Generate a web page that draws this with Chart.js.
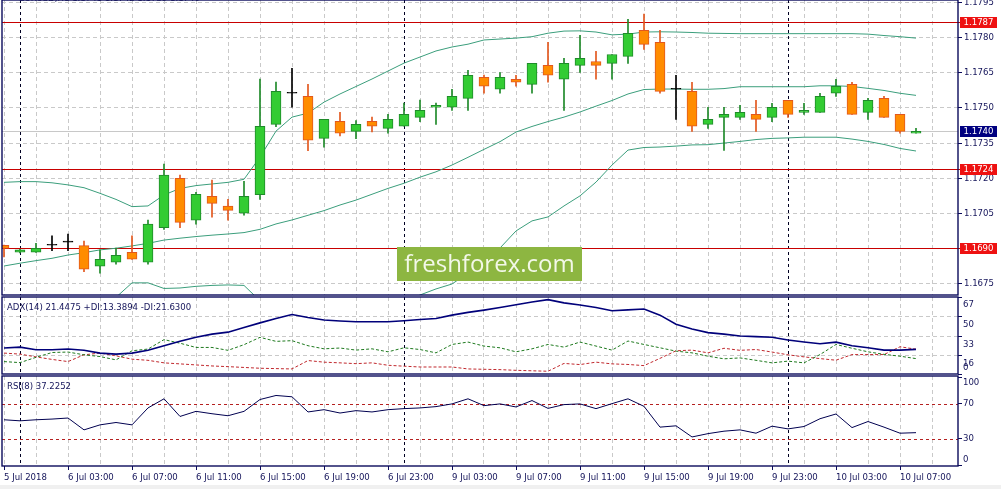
<!DOCTYPE html>
<html>
<head>
<meta charset="utf-8">
<script src="https://cdn.jsdelivr.net/npm/chart.js@4.4.1/dist/chart.umd.min.js"></script>
<style>
html,body{margin:0;padding:0;background:#fff;}
#wrap{position:relative;width:1001px;height:489px;overflow:hidden;background:#fff;}
canvas{position:absolute;left:0;}
.lbl{position:absolute;font-family:'DejaVu Sans Condensed','DejaVu Sans',sans-serif;font-size:9.5px;line-height:12px;color:#14145a;white-space:nowrap;}
#wm{position:absolute;left:397px;top:247px;width:185px;height:34px;background:#8db641;color:#f3f8e8;font-family:'Open Sans',sans-serif;font-size:24px;line-height:32px;text-align:center;}
#strip{position:absolute;left:0;top:485px;width:1001px;height:4px;background:#f0f0f0;}
</style>
</head>
<body>
<div id="wrap">
  <canvas id="cMain" width="1001" height="297" style="top:0px"></canvas>
  <canvas id="cAdx" width="1001" height="79" style="top:296px"></canvas>
  <canvas id="cRsi" width="1001" height="114" style="top:375px"></canvas>
  <div class="lbl" style="left:19px;top:-8px">EURUSD,H1  1.1741 1.1742 1.1739 1.1740</div>
  <div class="lbl" style="left:7px;top:301px">ADX(14) 21.4475 +DI:13.3894 -DI:21.6300</div>
  <div class="lbl" style="left:7px;top:380px">RSI(8) 37.2252</div>
  <div id="wm">freshforex.com</div>
  <div id="strip"></div>
</div>
<script>
// ---------------- DATA ----------------
const xTickLabels = ['5 Jul 2018','6 Jul 03:00','6 Jul 07:00','6 Jul 11:00','6 Jul 15:00','6 Jul 19:00','6 Jul 23:00',
  '9 Jul 03:00','9 Jul 07:00','9 Jul 11:00','9 Jul 15:00','9 Jul 19:00','9 Jul 23:00','10 Jul 03:00','10 Jul 07:00'];
const daySeparators = [1, 25, 49];

const open = [1.16912,1.16883,1.16883,1.16913,1.16926,1.16911,1.16823,1.16840,1.16883,1.16840,
1.16988,1.17199,1.17020,1.17122,1.17080,1.17050,1.17129,1.17430,1.17563,1.17550,
1.17370,1.17443,1.17400,1.17443,1.17413,1.17422,1.17460,1.17503,1.17503,1.17541,
1.17631,1.17580,1.17623,1.17601,1.17682,1.17623,1.17682,1.17699,1.17691,1.17721,
1.17832,1.17781,1.17580,1.17571,1.17430,1.17460,1.17460,1.17473,1.17460,1.17533,
1.17481,1.17481,1.17563,1.17601,1.17481,1.17541,1.17473,1.17392];
const high = [1.16914,1.16895,1.16921,1.16953,1.16961,1.16931,1.16893,1.16901,1.16953,1.17021,
1.17260,1.17213,1.17139,1.17192,1.17109,1.17186,1.17624,1.17611,1.17670,1.17601,
1.17451,1.17481,1.17446,1.17461,1.17473,1.17521,1.17534,1.17521,1.17580,1.17661,
1.17641,1.17652,1.17640,1.17691,1.17781,1.17712,1.17811,1.17742,1.17729,1.17879,
1.17902,1.17832,1.17640,1.17610,1.17503,1.17503,1.17511,1.17533,1.17520,1.17533,
1.17520,1.17563,1.17623,1.17610,1.17541,1.17550,1.17473,1.17413];
const low = [1.16863,1.16880,1.16882,1.16890,1.16890,1.16800,1.16793,1.16832,1.16852,1.16832,
1.16981,1.16988,1.17003,1.17033,1.17020,1.17041,1.17109,1.17420,1.17503,1.17317,
1.17332,1.17381,1.17369,1.17398,1.17392,1.17422,1.17441,1.17430,1.17490,1.17490,
1.17563,1.17563,1.17593,1.17563,1.17610,1.17490,1.17652,1.17623,1.17623,1.17691,
1.17751,1.17563,1.17451,1.17400,1.17413,1.17319,1.17451,1.17400,1.17441,1.17460,
1.17473,1.17481,1.17550,1.17473,1.17451,1.17460,1.17392,1.17392];
const close = [1.16899,1.16893,1.16900,1.16913,1.16926,1.16810,1.16853,1.16870,1.16853,1.17003,
1.17213,1.17011,1.17131,1.17092,1.17062,1.17122,1.17422,1.17571,1.17563,1.17362,
1.17451,1.17392,1.17430,1.17422,1.17451,1.17473,1.17490,1.17511,1.17550,1.17640,
1.17593,1.17631,1.17610,1.17691,1.17640,1.17691,1.17712,1.17682,1.17729,1.17819,
1.17772,1.17571,1.17580,1.17422,1.17451,1.17473,1.17481,1.17451,1.17503,1.17473,
1.17490,1.17550,1.17593,1.17473,1.17533,1.17460,1.17400,1.17400];

const bbUpper = [1.17182,1.17185,1.17185,1.17180,1.17171,1.17159,1.17135,1.17109,1.17078,1.17081,
1.17128,1.17156,1.17168,1.17175,1.17182,1.17195,1.17290,1.17401,1.17461,1.17478,
1.17525,1.17560,1.17592,1.17624,1.17658,1.17692,1.17718,1.17744,1.17761,1.17773,
1.17791,1.17795,1.17799,1.17805,1.17820,1.17829,1.17830,1.17825,1.17813,1.17816,
1.17825,1.17826,1.17825,1.17823,1.17820,1.17819,1.17818,1.17818,1.17818,1.17818,
1.17818,1.17818,1.17818,1.17818,1.17816,1.17810,1.17805,1.17799];
const bbMiddle = [1.16824,1.16836,1.16847,1.16857,1.16871,1.16881,1.16893,1.16900,1.16910,1.16921,
1.16935,1.16943,1.16950,1.16956,1.16961,1.16967,1.16981,1.17004,1.17021,1.17041,
1.17061,1.17085,1.17106,1.17131,1.17156,1.17178,1.17204,1.17227,1.17256,1.17289,
1.17323,1.17356,1.17397,1.17421,1.17442,1.17461,1.17483,1.17508,1.17532,1.17560,
1.17579,1.17581,1.17581,1.17580,1.17580,1.17583,1.17591,1.17591,1.17591,1.17591,
1.17591,1.17595,1.17595,1.17592,1.17584,1.17575,1.17563,1.17554];
const bbLower = [1.16466,1.16487,1.16509,1.16534,1.16572,1.16603,1.16650,1.16690,1.16752,1.16752,
1.16728,1.16730,1.16737,1.16741,1.16743,1.16741,1.16675,1.16606,1.16581,1.16602,
1.16598,1.16611,1.16623,1.16636,1.16653,1.16670,1.16700,1.16726,1.16747,1.16794,
1.16846,1.16901,1.16974,1.17017,1.17034,1.17081,1.17124,1.17183,1.17256,1.17320,
1.17331,1.17333,1.17337,1.17342,1.17343,1.17350,1.17357,1.17365,1.17370,1.17372,
1.17375,1.17375,1.17375,1.17367,1.17357,1.17344,1.17327,1.17316];

const adx = [22.6,23.4,21.1,21.1,21.7,20.6,18.2,17.3,18.2,20.6,
24.6,28.5,32.0,34.7,36.4,40.4,44.5,48.3,51.8,49.2,
47.0,46.1,45.4,45.4,45.4,46.3,47.4,48.3,51.2,53.6,
55.6,57.9,60.3,62.6,64.7,61.9,60.1,57.9,55.0,55.8,
56.5,51.2,43.3,39.1,36.0,34.7,33.1,32.5,32.0,29.6,
27.8,26.3,27.7,24.6,22.8,20.8,20.8,21.4];
const plusDi = [10.8,9.9,14.5,18.7,19.1,16.7,15.2,12.3,20.2,21.7,
29.9,26.8,23.1,23.1,20.6,25.5,31.9,28.4,29.0,24.6,
21.9,22.6,20.8,21.9,19.3,22.8,21.3,18.4,25.7,27.8,
24.3,22.8,19.3,21.9,25.7,23.4,27.8,24.3,20.8,28.7,
25.7,22.8,19.9,18.4,15.5,13.2,14.0,11.9,9.7,11.2,
9.7,16.9,25.7,22.4,19.3,17.1,15.5,13.4];
const minusDi = [18.2,17.3,14.9,12.7,10.8,16.7,18.2,15.8,12.9,11.9,
9.7,8.8,7.9,7.0,6.4,5.7,5.0,4.7,4.4,11.7,
10.3,9.7,9.0,9.7,7.6,6.8,6.1,6.1,6.1,4.4,
4.1,3.8,3.2,2.8,2.4,9.2,8.2,10.3,8.8,8.3,
7.3,13.6,20.2,20.8,18.4,22.4,20.6,21.3,19.1,16.7,
14.9,13.4,12.0,16.9,16.9,16.9,23.7,21.6];
const rsi = [51.9,50.7,51.9,52.7,53.9,40.4,46.1,48.8,46.1,65.4,
75.8,55.7,61.5,58.8,56.5,61.5,75.0,79.6,78.1,60.8,
63.4,59.6,62.3,60.8,63.4,64.6,65.4,66.9,70.0,75.8,
68.0,70.0,66.5,73.8,64.9,69.2,70.0,64.6,70.3,75.8,
67.2,43.5,45.0,32.3,36.1,38.9,40.4,36.6,44.6,41.5,
44.2,53.1,58.5,43.0,49.9,43.5,36.6,37.2];

const priceTicks = [1.1675,1.1690,1.1705,1.1720,1.1735,1.1750,1.1765,1.1780,1.1795];
const levelPrices = [1.1787, 1.1724, 1.1690];
const lastPrice = 1.1740;
const adxTicks = [0, 16, 33, 50, 67];
const rsiTicks = [0, 30, 70, 100];
const rsiLevels = [30, 70];

// ---------------- STYLE ----------------
const FONT = "'DejaVu Sans Condensed','DejaVu Sans',sans-serif";
const FSIZE = 9.5;
const AXIS = '#14145a', NAVY = '#0b0b5c', GRID = '#c9c9c9', BB = '#3b9e7c';
Chart.defaults.font.family = FONT;
Chart.defaults.font.size = FSIZE;
Chart.defaults.color = AXIS;
Chart.defaults.animation = false;
Chart.defaults.plugins.legend.display = false;
Chart.defaults.plugins.tooltip.enabled = false;

const idx = open.map((_, i) => i);
const kind = idx.map(i => close[i] > open[i] ? 'up' : (close[i] < open[i] ? 'down' : 'doji'));
const bodyFill = kind.map(k => k === 'up' ? '#33cc33' : k === 'down' ? '#ff8c00' : '#000000');
const bodyLine = kind.map(k => k === 'up' ? '#1f8a2a' : k === 'down' ? '#e2571e' : '#000000');
const wickCol  = kind.map(k => k === 'up' ? '#1f8a2a' : k === 'down' ? '#e2571e' : '#000000');

const X_MIN = -0.125, X_MAX = 59.625;
const gridSteps = [];
for (let v = 0; v <= 58; v += 2) gridSteps.push(v);

function xAxis(showLabels) {
  return {
    type: 'linear', min: X_MIN, max: X_MAX, offset: false,
    afterBuildTicks: s => { s.ticks = gridSteps.map(v => ({ value: v })); },
    afterFit: s => { s.height = showLabels ? 23 : 0; s.paddingLeft = 0; s.paddingRight = 0; },
    grid: {
      offset: false, color: GRID, lineWidth: 1, drawTicks: showLabels, tickLength: 4,
      tickColor: ctx => (ctx.tick && ctx.tick.value % 4 === 0) ? NAVY : 'rgba(0,0,0,0)',
      tickBorderDash: []
    },
    border: { display: false, dash: [4, 3] },
    ticks: {
      display: showLabels, autoSkip: false, maxRotation: 0, minRotation: 0, align: 'start', padding: 2,
      color: AXIS,
      callback: v => (v % 4 === 0 && xTickLabels[v / 4] !== undefined) ? xTickLabels[v / 4] : ''
    }
  };
}

const frame = {
  id: 'frame',
  afterDraw(chart) {
    const a = chart.chartArea, c = chart.ctx;
    c.save(); c.strokeStyle = NAVY; c.lineWidth = 1.4;
    c.strokeRect(a.left, a.top, a.right - a.left, a.bottom - a.top);
    c.restore();
  }
};
const separators = {
  id: 'separators',
  beforeDatasetsDraw(chart) {
    const a = chart.chartArea, c = chart.ctx, xs = chart.scales.x;
    c.save(); c.strokeStyle = '#000022'; c.lineWidth = 1; c.setLineDash([3, 3]);
    daySeparators.forEach(i => {
      const x = Math.round(xs.getPixelForValue(i)) + 0.5;
      c.beginPath(); c.moveTo(x, a.top); c.lineTo(x, a.bottom); c.stroke();
    });
    c.restore();
  }
};
const sideLabels = {
  id: 'sideLabels',
  afterDraw(chart, args, opts) {
    const s = chart.scales.y, a = chart.chartArea, c = chart.ctx;
    c.save(); c.font = FSIZE + 'px ' + FONT; c.fillStyle = AXIS; c.textBaseline = 'middle'; c.textAlign = 'left';
    opts.values.forEach(v => {
      let y = s.getPixelForValue(v) + opts.shift;
      y = Math.max(a.top + 7, Math.min(a.bottom - 6, y));
      c.fillText(String(v), a.right + 5, y);
    });
    c.restore();
  }
};
const priceLevels = {
  id: 'priceLevels',
  beforeDatasetsDraw(chart) {
    const a = chart.chartArea, c = chart.ctx, ys = chart.scales.y;
    c.save(); c.lineWidth = 1;
    let y = Math.round(ys.getPixelForValue(lastPrice)) + 0.5;
    c.strokeStyle = '#c8c8c8'; c.beginPath(); c.moveTo(a.left, y); c.lineTo(a.right, y); c.stroke();
    c.strokeStyle = '#c80000';
    levelPrices.forEach(p => {
      const yy = Math.round(ys.getPixelForValue(p)) + 0.5;
      c.beginPath(); c.moveTo(a.left, yy); c.lineTo(a.right + 2, yy); c.stroke();
    });
    c.restore();
  },
  afterDraw(chart) {
    const a = chart.chartArea, c = chart.ctx, ys = chart.scales.y;
    c.save(); c.font = FSIZE + 'px ' + FONT; c.textAlign = 'center'; c.textBaseline = 'middle';
    const box = (p, fill) => {
      const y = Math.round(ys.getPixelForValue(p));
      c.fillStyle = fill; c.fillRect(a.right + 2, y - 5, 37, 11);
      c.fillStyle = '#ffffff'; c.fillText(p.toFixed(4), a.right + 2 + 18.5, y + 0.5);
    };
    levelPrices.forEach(p => box(p, '#ee1111'));
    box(lastPrice, '#000080');
    c.restore();
  }
};

// ---------------- MAIN CHART ----------------
new Chart(document.getElementById('cMain'), {
  type: 'bar',
  data: {
    datasets: [
      { type: 'bar', label: 'body', data: idx.map(i => ({ x: i, y: [open[i], close[i]] })),
        backgroundColor: bodyFill, borderColor: bodyLine, borderWidth: 1, borderSkipped: false,
        barThickness: 10, minBarLength: 1, grouped: false, order: 0 },
      { type: 'bar', label: 'wick', data: idx.map(i => ({ x: i, y: [low[i], high[i]] })),
        backgroundColor: wickCol, borderWidth: 0, barThickness: 1, grouped: false, order: 1 },
      { type: 'line', label: 'upper', data: idx.map(i => ({ x: i, y: bbUpper[i] })),
        borderColor: BB, borderWidth: 1, pointRadius: 0, fill: false, tension: 0, order: 2 },
      { type: 'line', label: 'middle', data: idx.map(i => ({ x: i, y: bbMiddle[i] })),
        borderColor: BB, borderWidth: 1, pointRadius: 0, fill: false, tension: 0, order: 2 },
      { type: 'line', label: 'lower', data: idx.map(i => ({ x: i, y: bbLower[i] })),
        borderColor: BB, borderWidth: 1, pointRadius: 0, fill: false, tension: 0, order: 2 }
    ]
  },
  options: {
    responsive: false, maintainAspectRatio: false,
    layout: { padding: { left: 2, right: 0, top: 0, bottom: 2 } },
    scales: {
      x: xAxis(false),
      y: {
        position: 'right', min: 1.16700, max: 1.17962,
        afterBuildTicks: s => { s.ticks = priceTicks.map(v => ({ value: v })); },
        afterFit: s => { s.width = 43; s.paddingTop = 0; s.paddingBottom = 0; },
        grid: { color: GRID, drawTicks: true, tickLength: 4, tickColor: NAVY, tickBorderDash: [] },
        border: { display: false, dash: [4, 3] },
        ticks: { padding: 2, color: AXIS, callback: v => Number(v).toFixed(4) }
      }
    }
  },
  plugins: [separators, priceLevels, frame]
});

// ---------------- ADX ----------------
new Chart(document.getElementById('cAdx'), {
  type: 'line',
  data: {
    datasets: [
      { label: 'ADX', data: idx.map(i => ({ x: i, y: adx[i] })), borderColor: '#00007a', borderWidth: 1.6, pointRadius: 0, tension: 0 },
      { label: '+DI', data: idx.map(i => ({ x: i, y: plusDi[i] })), borderColor: '#1f7a1f', borderWidth: 1, borderDash: [3, 2], pointRadius: 0, tension: 0 },
      { label: '-DI', data: idx.map(i => ({ x: i, y: minusDi[i] })), borderColor: '#c0282d', borderWidth: 1, borderDash: [3, 2], pointRadius: 0, tension: 0 }
    ]
  },
  options: {
    responsive: false, maintainAspectRatio: false,
    layout: { padding: { left: 2, right: 0, top: 1, bottom: 1 } },
    scales: {
      x: xAxis(false),
      y: {
        position: 'right', min: 0, max: 67,
        afterBuildTicks: s => { s.ticks = adxTicks.map(v => ({ value: v })); },
        afterFit: s => { s.width = 43; s.paddingTop = 0; s.paddingBottom = 0; },
        grid: { color: ctx => (ctx.tick && (ctx.tick.value === 0 || ctx.tick.value === 67)) ? 'rgba(0,0,0,0)' : GRID,
                drawTicks: true, tickLength: 4, tickColor: NAVY, tickBorderDash: [] },
        border: { display: false, dash: [4, 3] },
        ticks: { display: false }
      }
    },
    plugins: { sideLabels: { values: adxTicks, shift: 8 } }
  },
  plugins: [separators, sideLabels, frame]
});

// ---------------- RSI ----------------
const rsiLevelsPlugin = {
  id: 'rsiLevels',
  beforeDatasetsDraw(chart) {
    const a = chart.chartArea, c = chart.ctx, ys = chart.scales.y;
    c.save(); c.strokeStyle = '#b52020'; c.lineWidth = 1; c.setLineDash([3, 3]);
    rsiLevels.forEach(v => {
      const y = Math.round(ys.getPixelForValue(v)) + 0.5;
      c.beginPath(); c.moveTo(a.left, y); c.lineTo(a.right, y); c.stroke();
    });
    c.restore();
  }
};
new Chart(document.getElementById('cRsi'), {
  type: 'line',
  data: {
    datasets: [
      { label: 'RSI', data: idx.map(i => ({ x: i, y: rsi[i] })), borderColor: '#000050', borderWidth: 1, pointRadius: 0, tension: 0 }
    ]
  },
  options: {
    responsive: false, maintainAspectRatio: false,
    layout: { padding: { left: 2, right: 0, top: 1, bottom: 0 } },
    scales: {
      x: xAxis(true),
      y: {
        position: 'right', min: -0.8, max: 101.8,
        afterBuildTicks: s => { s.ticks = rsiTicks.map(v => ({ value: v })); },
        afterFit: s => { s.width = 43; s.paddingTop = 0; s.paddingBottom = 0; },
        grid: { color: 'rgba(0,0,0,0)', drawTicks: true, tickLength: 4, tickColor: NAVY, tickBorderDash: [] },
        border: { display: false },
        ticks: { display: false }
      }
    },
    plugins: { sideLabels: { values: rsiTicks, shift: 0 } }
  },
  plugins: [separators, rsiLevelsPlugin, sideLabels, frame]
});
</script>
</body>
</html>
